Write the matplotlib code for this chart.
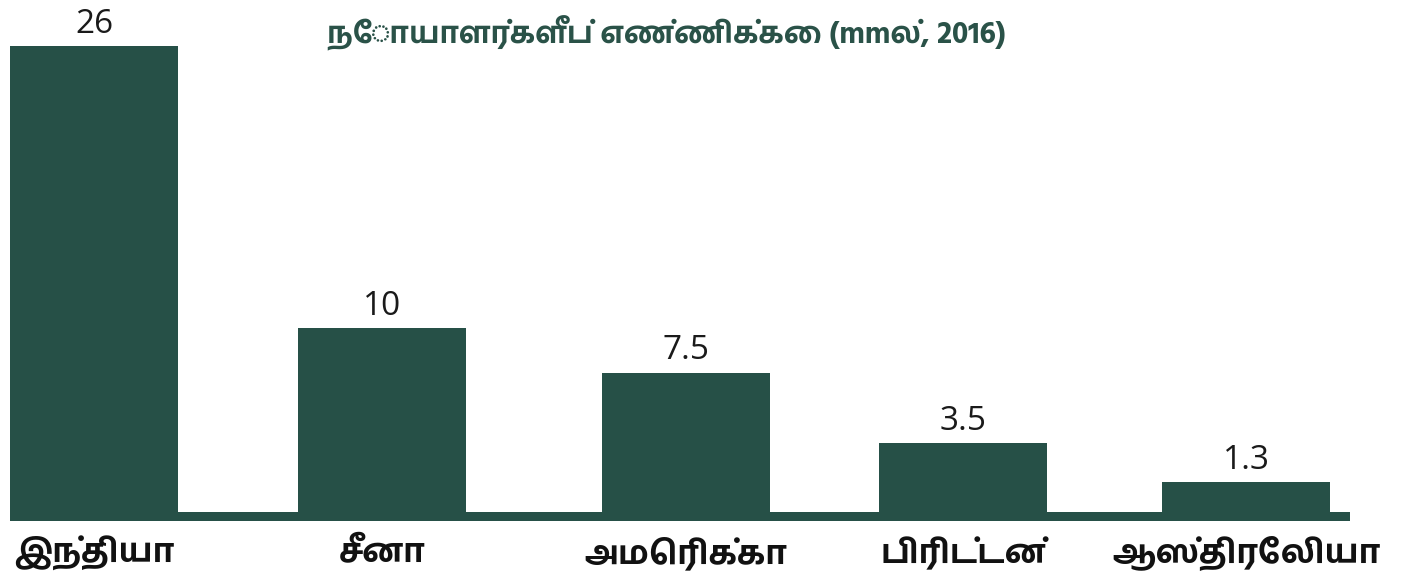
import matplotlib
matplotlib.use("Agg")
import matplotlib.pyplot as plt
import numpy as np

# ---- data ----
countries = ["இந்தியா", "சீனா", "அமெரிக்கா", "பிரிட்டன்", "ஆஸ்திரேலியா"]
patients = [26, 10, 7.5, 3.5, 1.3]
value_labels = ["26", "10", "7.5", "3.5", "1.3"]
title = "நோயாளர்களீப் எண்ணிக்கை (mmல், 2016)"

# ---- layout / style ----
positions = np.array([0.0, 1.0, 2.056, 3.017, 4.0])
bar_width = 0.583
bar_color = "#265047"
title_color = "#2a5248"
depth = 0.906

tamil_fam = ["Hind Madurai", "Mukta Malar", "Noto Sans Tamil", "FreeSans", "DejaVu Sans"]
num_fam = ["Open Sans", "DejaVu Sans"]

fig = plt.figure(figsize=(14.07, 5.75), dpi=100)
ax = fig.add_axes([10 / 1407, (575 - 521) / 575, 1340 / 1407, 521 / 575])

ax.bar(positions, np.array(patients) + depth, bottom=-depth, width=bar_width,
       color=bar_color, linewidth=0)
ax.axhspan(-depth, -0.397, color=bar_color, linewidth=0)

ax.set_xlim(-0.2917, 4.361)
ax.set_ylim(-depth, 28.61)
ax.axis("off")

for x, v, lab in zip(positions, patients, value_labels):
    ax.annotate(lab, (x, v), xytext=(0, 4), textcoords="offset points",
                ha="center", va="bottom", fontsize=24, color="#1a1a1a",
                family=num_fam)

for x, lab in zip(positions, countries):
    ax.annotate(lab, (x, -depth), xytext=(0, -11), textcoords="offset points",
                ha="center", va="top", fontsize=24, fontweight="bold",
                color="#111111", family=tamil_fam)

fig.text(666 / 1407, 1 - 33 / 575, title, ha="center", va="center",
         fontsize=21.5, fontweight="bold", color=title_color, family=tamil_fam)

fig.savefig("out.png", dpi=100)
